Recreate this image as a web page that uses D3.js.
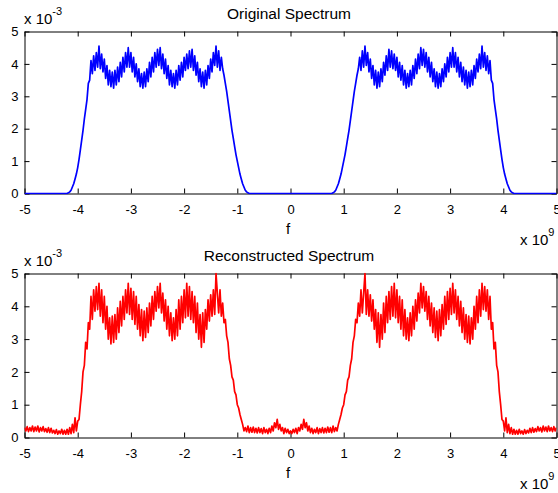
<!DOCTYPE html>
<html>
<head>
<meta charset="utf-8">
<script src="https://cdn.jsdelivr.net/npm/d3@7"></script>
<style>
	body { margin: 0; background: #fff; }
	svg { display: block; font-family: 'Liberation Sans', Arial, sans-serif; }
</style>
</head>
<body>
<div id="chart"></div>
<script>
// frequency step of the sampled spectra, in units of 1e9
const fStep = 0.025;
// magnitudes in units of 1e-3, negative half starts at f = -5, positive half at f = 0
const origNeg = [
	0,0,0,0,0,0,0,0,0,0,
	0,0,0,0,0,0,0,0,0,0,
	0,0,0,0,0,0,0,0,0,0,
	0,0,0,
	0.02,0.05,0.1,0.2,0.3,0.45,0.6,0.8,1.05,1.35,1.65,1.95,2.3,2.6,
	2.9,3.4,3.5,4.1,3.7,4.25,3.8,4.35,3.9,4.55,
	3.85,4.3,3.75,4.15,3.55,3.95,3.35,3.8,3.3,3.75,
	3.25,3.8,3.35,3.9,3.45,4.05,3.6,4.2,3.75,4.35,
	3.9,4.5,3.9,4.35,3.75,4.2,3.6,4.0,3.45,3.85,
	3.3,3.7,3.25,3.75,3.3,3.85,3.45,4.05,3.6,4.2,
	3.75,4.35,3.9,4.45,3.95,4.5,3.85,4.3,3.7,4.15,
	3.55,3.95,3.35,3.8,3.3,3.7,3.25,3.8,3.35,3.95,
	3.5,4.05,3.6,4.2,3.8,4.3,3.85,4.4,3.9,4.45,
	3.8,4.25,3.65,4.05,3.45,3.85,3.3,3.75,3.25,3.8,
	3.35,3.95,3.55,4.15,3.75,4.35,3.95,4.55,3.9,4.4,
	3.8,4.2,
	3.85,3.65,3.4,3.15,2.85,2.55,2.25,1.95,1.7,1.45,1.2,1.0,0.8,0.6,0.45,0.3,0.2,0.1,0.05,0.02,
	0,0,0,0,0,0,0,0,0,0,
	0,0,0,0,0,0,0,0,0,0,
	0,0,0,0,0,0,0,0,0,0,
	0
];
const origPos = [
	0,0,0,0,0,0,0,0,0,0,
	0,0,0,0,0,0,0,0,0,0,
	0,0,0,0,0,0,0,0,0,0,
	0,0,
	0.02,0.05,0.1,0.2,0.3,0.45,0.6,0.8,1.0,1.2,1.45,1.7,1.95,2.25,2.55,2.85,3.15,3.4,3.65,3.85,
	4.2,3.8,4.4,3.9,4.55,3.95,4.35,3.75,4.15,3.55,
	3.95,3.35,3.8,3.25,3.75,3.3,3.85,3.45,4.05,3.65,
	4.25,3.8,4.45,3.9,4.4,3.85,4.3,3.8,4.2,3.6,
	4.05,3.5,3.95,3.35,3.8,3.25,3.7,3.3,3.8,3.35,
	3.95,3.55,4.15,3.7,4.3,3.85,4.5,3.95,4.45,3.9,
	4.35,3.75,4.2,3.6,4.05,3.45,3.85,3.3,3.75,3.25,
	3.7,3.3,3.85,3.45,4.0,3.6,4.2,3.75,4.35,3.9,
	4.5,3.9,4.35,3.75,4.2,3.6,4.05,3.45,3.9,3.35,
	3.8,3.25,3.75,3.3,3.8,3.35,3.95,3.55,4.15,3.75,
	4.3,3.85,4.55,3.9,4.35,3.8,4.25,3.7,4.1,3.5,
	3.4,2.9,
	2.6,2.3,1.95,1.65,1.35,1.05,0.8,0.6,0.45,0.3,0.2,0.1,0.05,0.02,
	0,0,0,0,0,0,0,0,0,0,
	0,0,0,0,0,0,0,0,0,0,
	0,0,0,0,0,0,0,0,0,0,
	0,0,0
];
const reconNeg = [
	0.3,0.2,0.33,0.18,0.3,0.2,0.35,0.18,0.32,0.2,
	0.35,0.17,0.3,0.2,0.33,0.18,0.27,0.16,0.3,0.15,
	0.28,0.14,0.22,0.12,0.24,0.1,0.2,0.12,0.25,0.1,
	0.22,0.1,0.25,0.1,0.3,0.12,0.4,0.15,0.6,0.2,
	0.5,0.55,1.0,1.4,2.0,2.2,2.9,2.7,3.5,3.3,
	4.3,3.6,4.5,3.85,4.6,3.9,4.7,3.7,4.5,3.5,
	4.3,3.3,4.0,3.0,3.65,2.85,3.7,2.9,3.75,3.0,
	3.95,3.2,4.15,3.4,4.3,3.6,4.5,3.8,4.7,3.75,
	4.55,3.6,4.45,3.45,4.3,3.3,4.05,3.1,3.9,2.95,
	3.85,3.05,3.95,3.2,4.1,3.4,4.3,3.6,4.45,3.85,
	4.6,3.95,4.7,3.8,4.4,3.55,4.2,3.3,4.0,3.1,
	3.8,2.95,3.65,3.0,3.9,3.1,4.2,3.3,4.3,3.5,
	4.5,3.65,4.7,3.7,4.6,3.6,4.45,3.5,4.3,3.2,
	4.1,3.0,3.75,2.75,3.8,2.9,3.9,3.3,4.2,3.55,
	4.35,3.7,4.5,3.75,5.0,4.4,3.8,4.5,3.7,4.1,
	3.5,3.6,3.1,2.9,2.4,2.2,1.85,1.75,1.4,1.3,
	1.0,0.9,0.7,0.55,0.4,0.2,0.3,0.18,0.35,0.15,
	0.3,0.16,0.32,0.15,0.28,0.14,0.3,0.15,0.27,0.12,
	0.3,0.15,0.25,0.12,0.28,0.15,0.35,0.2,0.45,0.3,
	0.55,0.25,0.4,0.2,0.3,0.12,0.28,0.15,0.25,0.12
];
const reconPos = [
	0.2,0.12,0.25,0.15,0.28,0.12,0.3,0.2,0.4,0.25,
	0.55,0.3,0.45,0.2,0.35,0.15,0.28,0.12,0.25,0.15,
	0.3,0.12,0.27,0.15,0.3,0.14,0.28,0.15,0.32,0.16,
	0.3,0.15,0.35,0.18,0.3,0.2,0.4,0.55,0.7,0.9,
	1.0,1.3,1.4,1.75,1.85,2.2,2.4,2.9,3.1,3.6,
	3.5,4.1,3.7,4.5,3.8,4.4,5.0,3.75,4.5,3.7,
	4.35,3.55,4.2,3.3,3.9,2.9,3.8,2.75,3.75,3.0,
	4.1,3.2,4.3,3.5,4.45,3.6,4.6,3.7,4.7,3.65,
	4.5,3.5,4.3,3.3,4.2,3.1,3.9,3.0,3.65,2.95,
	3.8,3.1,4.0,3.3,4.2,3.55,4.4,3.8,4.7,3.95,
	4.6,3.85,4.45,3.6,4.3,3.4,4.1,3.2,3.95,3.05,
	3.85,2.95,3.9,3.1,4.05,3.3,4.3,3.45,4.45,3.6,
	4.55,3.75,4.7,3.8,4.5,3.6,4.3,3.4,4.15,3.2,
	3.95,3.0,3.75,2.9,3.7,2.85,3.65,3.0,4.0,3.3,
	4.3,3.5,4.5,3.7,4.7,3.9,4.6,3.85,4.5,3.6,
	4.3,3.3,3.5,2.7,2.9,2.2,2.0,1.4,1.0,0.55,
	0.5,0.2,0.6,0.15,0.4,0.12,0.3,0.1,0.25,0.1,
	0.22,0.1,0.25,0.12,0.2,0.1,0.24,0.12,0.22,0.14,
	0.28,0.15,0.3,0.16,0.27,0.18,0.33,0.2,0.3,0.17,
	0.35,0.2,0.32,0.18,0.35,0.2,0.3,0.18,0.33,0.2,
	0.3
];

const xTicks = [-5, -4, -3, -2, -1, 0, 1, 2, 3, 4, 5];
const yTicks = [0, 1, 2, 3, 4, 5];

const toSeries = (neg, pos) =>
	neg.map((v, i) => ({ f: -5 + i * fStep, v }))
		.concat(pos.map((v, i) => ({ f: i * fStep, v })));

const width = 558;
const height = 493;

const svg = d3
	.select('#chart')
	.append('svg')
	.attr('width', width)
	.attr('height', height);

const x = d3.scaleLinear().domain([-5, 5]).range([24.5, 556.5]);

function drawPanel(data, top, bottom, title, color, id) {
	const y = d3.scaleLinear().domain([0, 5]).range([bottom, top]);
	const g = svg.append('g');
	const font = "'Liberation Sans', Arial, sans-serif";

	const styleAxis = (sel) => {
		sel.attr('font-size', 13).attr('font-family', font);
		sel.selectAll('path, line').attr('stroke', '#000');
		sel.selectAll('text').attr('fill', '#000');
	};

	g.append('g')
		.attr('transform', `translate(0,${bottom})`)
		.call(d3.axisBottom(x).tickValues(xTicks).tickSizeInner(-5).tickSizeOuter(0).tickPadding(11).tickFormat((d) => String(d)))
		.call(styleAxis);

	g.append('g')
		.attr('transform', `translate(0,${top})`)
		.call(d3.axisTop(x).tickValues(xTicks).tickSizeInner(-5).tickSizeOuter(0).tickFormat(''))
		.call(styleAxis);

	g.append('g')
		.attr('transform', `translate(${x.range()[0]},0)`)
		.call(d3.axisLeft(y).tickValues(yTicks).tickSizeInner(-5).tickSizeOuter(0).tickPadding(6).tickFormat((d) => String(d)))
		.call(styleAxis);

	g.append('g')
		.attr('transform', `translate(${x.range()[1]},0)`)
		.call(d3.axisRight(y).tickValues(yTicks).tickSizeInner(-5).tickSizeOuter(0).tickFormat(''))
		.call(styleAxis);

	svg.append('clipPath')
		.attr('id', id)
		.append('rect')
		.attr('x', x.range()[0])
		.attr('y', top - 1)
		.attr('width', x.range()[1] - x.range()[0])
		.attr('height', bottom - top + 2);

	const line = d3
		.line()
		.x((d) => x(d.f))
		.y((d) => y(d.v));

	g.append('path')
		.datum(data)
		.attr('clip-path', `url(#${id})`)
		.attr('fill', 'none')
		.attr('stroke', color)
		.attr('stroke-width', 1.7)
		.attr('stroke-linejoin', 'round')
		.attr('d', line);

	g.append('text')
		.attr('x', 289)
		.attr('y', top - 12.5)
		.attr('text-anchor', 'middle')
		.attr('font-size', 15.5)
		.text(title);

	// exponent labels
	const yExp = g.append('text')
		.attr('x', 24)
		.attr('y', top - 8)
		.attr('font-size', 15)
		.text('x 10');
	yExp.append('tspan').attr('dy', -9).attr('font-size', 11).text('-3');

	const xExp = g.append('text')
		.attr('x', 520)
		.attr('y', bottom + 51)
		.attr('font-size', 15)
		.text('x 10');
	xExp.append('tspan').attr('dy', -9).attr('font-size', 11).text('9');

	g.append('text')
		.attr('x', 288)
		.attr('y', bottom + 40)
		.attr('text-anchor', 'middle')
		.attr('font-size', 15)
		.text('f');
}

drawPanel(toSeries(origNeg, origPos), 31.5, 193.5, 'Original Spectrum', '#0000ff', 'clip-top');
drawPanel(toSeries(reconNeg, reconPos), 273.5, 437.5, 'Reconstructed Spectrum', '#ff0000', 'clip-bottom');
</script>
</body>
</html>
